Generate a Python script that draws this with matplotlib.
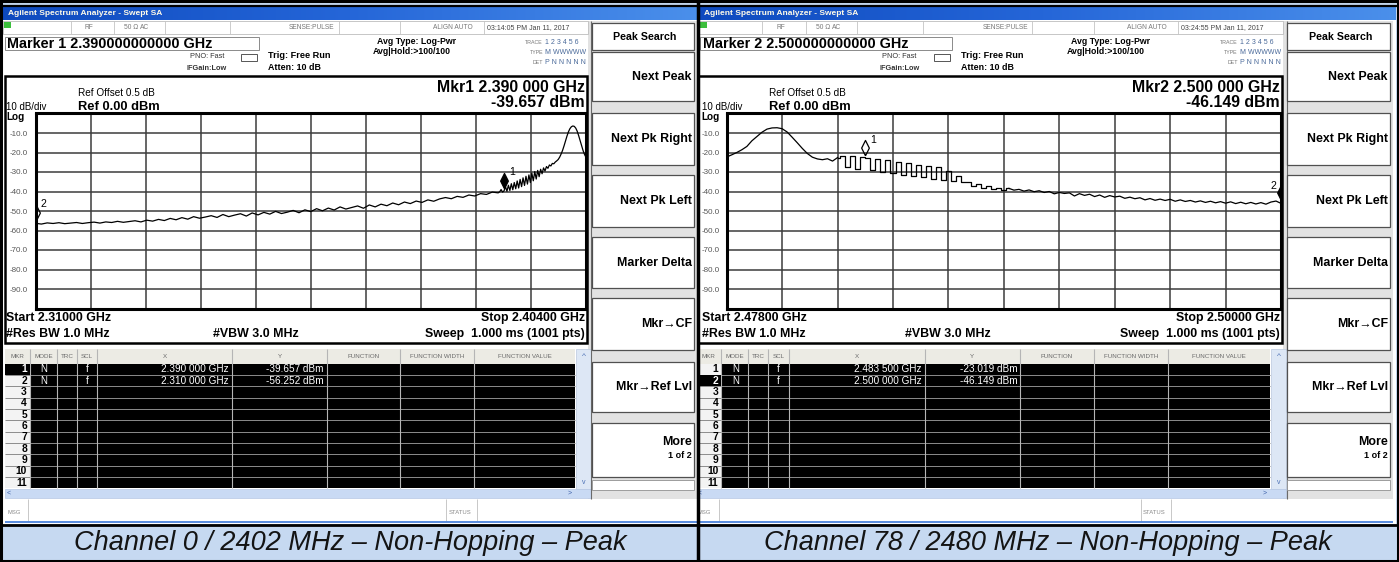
import numpy as np
import matplotlib
matplotlib.use('Agg')
import matplotlib.pyplot as plt
from matplotlib.patches import Rectangle
from matplotlib.colors import LinearSegmentedColormap

plt.rcParams['font.family'] = ['Liberation Sans', 'DejaVu Sans']

# trace levels in dBm
left_body_start, left_body_step = 2310.0, 1.0
left_body_db = [-56.3, -56.7, -56.1, -56.4, -56.0, -56.5, -56.2, -55.9, -56.4, -56.0,
                -55.7, -56.2, -55.6, -55.9, -55.3, -55.8, -55.4, -55.0, -55.6, -54.7,
                -55.2, -54.3, -54.9, -53.8, -54.5, -53.4, -54.2, -52.9, -53.7, -53.1,
                -52.4, -53.3, -51.8, -52.9, -52.1, -51.4, -52.6, -51.0, -52.0, -50.7,
                -51.6, -50.2, -51.3, -50.6, -49.7, -50.9, -49.4, -50.3, -48.8, -49.9,
                -48.5, -49.5, -47.9, -49.0, -48.2, -47.4, -48.6, -46.9, -47.9, -46.5,
                -47.3, -45.9, -46.8, -45.4, -46.2, -44.9, -45.6, -44.3, -45.0, -43.8,
                -43.1, -43.7, -42.5, -43.0, -41.8, -42.3, -41.1, -41.5, -40.3, -40.7]
left_peak_start, left_peak_step = 2389.25, 0.25
left_peak_db = [-40.2, -39.0, -40.3,
                -39.7, -37.5, -39.9, -36.8, -39.5, -36.0, -39.1, -35.4,
                -38.6, -34.6, -38.2, -33.8, -37.5, -33.0, -36.9, -32.2,
                -36.2, -31.5, -35.4, -30.6, -34.5, -29.8, -33.6, -29.2,
                -32.4, -28.6, -30.9, -27.9, -29.5, -27.2, -28.1, -26.4,
                -26.9, -25.6, -25.8, -24.9, -24.3, -23.6, -22.4, -20.8,
                -18.9, -16.6, -14.1, -11.6, -9.4, -7.8, -6.8, -6.4,
                -6.6, -7.5, -9.1, -11.4, -14.0, -16.6, -19.0, -21.0,
                -22.5]

right_start, right_step = 2478.0, 0.2
right_db = [-22.3, -21.2, -20.0, -18.6, -16.9, -14.0, -11.8, -9.6, -8.0, -7.4,
            -7.3, -7.8, -9.5, -12.2, -15.0, -17.9, -20.5, -22.4, -23.3, -23.7,
            -23.2, -24.4, -22.6,
            -21.6, -27.5, -22.0, -28.3, -22.5, -23.0, -29.1, -23.4, -30.0, -24.1,
            -30.6, -25.0, -31.5, -25.6, -32.2, -26.3, -32.8, -26.9, -33.4, -27.6,
            -34.0, -29.5, -34.4, -31.8, -35.2, -35.0, -37.1, -36.2, -38.0, -37.3,
            -38.6, -38.1,
            -39.0, -38.4, -39.3, -38.9, -39.8, -39.2, -40.1, -39.6, -40.5, -40.0,
            -41.2, -40.5, -41.0, -40.7, -42.3, -41.1, -42.0, -41.4, -42.6, -41.8,
            -43.0, -42.1, -42.8, -42.4, -43.5, -42.9, -43.7, -43.2, -44.3, -43.6,
            -44.5, -43.9, -44.6, -44.0, -45.0, -44.3, -45.1, -44.6, -45.4, -44.8,
            -45.6, -45.0, -45.8, -45.2, -46.0, -45.3, -46.2, -45.5, -46.3, -45.6,
            -46.4, -45.7, -46.5, -45.4, -44.9, -46.1]

# marker table values
left_mkr_mhz = [2390.0, 2310.0]
left_mkr_db = [-39.657, -56.252]
right_mkr_mhz = [2483.5, 2500.0]
right_mkr_db = [-23.019, -46.149]

left_caption = 'Channel 0 / 2402 MHz \u2013 Non-Hopping \u2013 Peak'
right_caption = 'Channel 78 / 2480 MHz \u2013 Non-Hopping \u2013 Peak'

softkeys = [('Peak Search', 23, 50), ('Next Peak', 52, 101), ('Next Pk Right', 113, 165),
            ('Next Pk Left', 175, 227), ('Marker Delta', 237, 288), ('Mkr\u2192CF', 298, 350),
            ('Mkr\u2192Ref Lvl', 362, 412), ('More', 423, 477)]

W, H = 1399, 562
left_freq = np.concatenate([left_body_start + left_body_step * np.arange(len(left_body_db)),
                            left_peak_start + left_peak_step * np.arange(len(left_peak_db))])
left_db = left_body_db + left_peak_db
right_freq = right_start + right_step * np.arange(len(right_db))

# comb = index range drawn as stepped (spiky) part of the trace
panels = [
    dict(fig_x=(3, 697), s=1.0, dx=0.0, start=2310.0, stop=2404.0, freq=left_freq, db=left_db,
         mkr_mhz=left_mkr_mhz, mkr_db=left_mkr_db, active=0, text_x=6, comb=None,
         clock='03:14:05 PM Jan 11, 2017', caption=left_caption),
    dict(fig_x=(699, 1396), s=1.007, dx=690.95, start=2478.0, stop=2500.0, freq=right_freq, db=right_db,
         mkr_mhz=right_mkr_mhz, mkr_db=right_mkr_db, active=1, text_x=10.5, comb=(22, 56),
         clock='03:24:55 PM Jan 11, 2017', caption=right_caption),
]

title_cmap = LinearSegmentedColormap.from_list('xp', ['#0c48bd', '#2566d8', '#4d92ec'])
diamond = [(0, 0.35), (0.5, 1.35), (0, 2.35), (-0.5, 1.35), (0, 0.35)]


def box(ax, x0, y0, x1, y1, fc='white', ec='none', lw=0.8, z=1):
    ax.add_patch(Rectangle((x0, y0), x1 - x0, y1 - y0, facecolor=fc, edgecolor=ec,
                           linewidth=lw, zorder=z))


def txt(ax, x, y, s, size, ha='left', color='black', weight='normal', z=6):
    ax.text(x, y, s, fontsize=size, ha=ha, va='center', color=color, fontweight=weight,
            zorder=z, clip_on=True)


def vline(ax, x, y0, y1, color, lw=0.7, z=3):
    ax.plot([x, x], [y0, y1], color=color, lw=lw, zorder=z, solid_capstyle='butt')


def hline(ax, y, x0, x1, color, lw=0.7, z=3):
    ax.plot([x0, x1], [y, y], color=color, lw=lw, zorder=z, solid_capstyle='butt')


def ghz(f):
    s = f'{f / 1000:.6f}'
    return s[:5] + ' ' + s[5:]


def draw_chrome(ax, p):
    a = p['active']
    tx = p['text_x']
    box(ax, -20, 0, 720, 530, fc='white', z=0)
    grad = np.linspace(0, 1, 256).reshape(1, -1)
    ax.imshow(grad, extent=(-20, 720, 20, 7), aspect='auto', cmap=title_cmap, zorder=1)
    txt(ax, tx + 2, 13.5, 'Agilent Spectrum Analyzer - Swept SA', 6, color='#fffbe8', weight='bold')

    # status line
    box(ax, 3, 21, 588, 34, fc='white', ec='#bdbdbd', lw=0.6, z=2)
    for xs in [71, 114, 165, 230, 339, 400, 484]:
        vline(ax, xs, 21, 34, '#c4c4c4', 0.6)
    box(ax, tx - 2, 21.5, tx + 5, 28, fc='#3cbf3c', z=3)
    txt(ax, 89, 27.5, 'RF', 4.8, ha='center', color='#777')
    txt(ax, 124, 27.5, '50 \u03a9', 4.8, color='#777')
    txt(ax, 140, 27.5, 'AC', 4.8, color='#777')
    txt(ax, 312, 27.5, 'SENSE:PULSE', 4.8, ha='center', color='#777')
    txt(ax, 453, 27.5, 'ALIGN AUTO', 4.8, ha='center', color='#777')
    txt(ax, 487, 27.5, p['clock'], 5.0, color='#444')

    # active marker readout
    f, db = p['mkr_mhz'][a], p['mkr_db'][a]
    box(ax, tx - 1.5, 37, 259, 50, fc='white', ec='#8a8a8a', lw=0.7, z=2)
    txt(ax, tx + 1, 43.5, f'Marker {a + 1} {f / 1000:.12f} GHz', 10.4, weight='bold')
    txt(ax, 190, 57, 'PNO: Fast', 5.3, color='#333')
    txt(ax, 187, 68, 'IFGain:Low', 5.3, color='#333', weight='bold')
    box(ax, 241, 54, 257, 61, fc='white', ec='#555', lw=0.7, z=2)
    txt(ax, 268, 55, 'Trig: Free Run', 6.6, weight='bold')
    txt(ax, 268, 67, 'Atten: 10 dB', 6.4, weight='bold')
    txt(ax, 377, 42, 'Avg Type: Log-Pwr', 6.3, weight='bold')
    txt(ax, 373, 52, 'Avg|Hold:>100/100', 6.3, weight='bold')
    for yy, lab, val in [(42, 'TRACE', '1 2 3 4 5 6'), (52, 'TYPE', 'M WWWWW'), (62, 'DET', 'P N N N N N')]:
        txt(ax, 543, yy, lab, 3.8, ha='right', color='#777')
        txt(ax, 545, yy, val, 5.0, color='#4a6a9a')

    # graph frame and annotations
    box(ax, 5, 76, 587, 343, fc='none', ec='black', lw=1.8, z=4)
    txt(ax, 78, 93.5, 'Ref Offset 0.5 dB', 7.2)
    txt(ax, 78, 106.5, 'Ref 0.00 dBm', 9.3, weight='bold')
    txt(ax, tx, 107.5, '10 dB/div', 7.0)
    txt(ax, tx, 117.5, 'Log', 7.2, weight='bold')
    txt(ax, 585, 87.5, f'Mkr{a + 1} {ghz(f)} GHz', 11.4, ha='right', weight='bold')
    txt(ax, 585, 102.5, f'{db:.3f} dBm', 11.4, ha='right', weight='bold')
    txt(ax, tx, 318, f'Start {p["start"] / 1000:.5f} GHz', 8.9, weight='bold')
    txt(ax, tx, 334, '#Res BW 1.0 MHz', 8.9, weight='bold')
    txt(ax, 213, 334, '#VBW 3.0 MHz', 8.9, weight='bold')
    txt(ax, 585, 318, f'Stop {p["stop"] / 1000:.5f} GHz', 8.9, ha='right', weight='bold')
    txt(ax, 585, 334, 'Sweep  1.000 ms (1001 pts)', 8.9, ha='right', weight='bold')

    # marker table
    cols = [5, 30, 57, 77, 97, 232, 327, 400, 474, 575]
    heads = ['MKR', 'MODE', 'TRC', 'SCL', 'X', 'Y', 'FUNCTION', 'FUNCTION WIDTH', 'FUNCTION VALUE']
    box(ax, 5, 349, 575, 363.6, fc='#ecebe4', z=2)
    for i, hd in enumerate(heads):
        txt(ax, (cols[i] + cols[i + 1]) / 2, 356, hd, 4.5, ha='center', color='#6a6a6a')
    row_top, row_h = 363.6, 11.35
    box(ax, 30, row_top, 575, row_top + 11 * row_h, fc='black', z=2)
    box(ax, 5, row_top, 30, row_top + 11 * row_h, fc='#f3f3f3', z=2)
    for k in range(1, 11):
        hline(ax, row_top + k * row_h, 5, 575, '#8c8c8c', 0.7)
    for xc in cols[1:-1]:
        vline(ax, xc, 349, row_top + 11 * row_h, '#b5b5b5', 0.8)
    for r in range(11):
        yc = row_top + (r + 0.5) * row_h
        if r == a:
            box(ax, 5, yc - row_h / 2, 30, yc + row_h / 2, fc='black', z=3)
        txt(ax, 27, yc, str(r + 1), 7.4, ha='right', color='white' if r == a else 'black', weight='bold')
    for r, (mf, md) in enumerate(zip(p['mkr_mhz'], p['mkr_db'])):
        yc = row_top + (r + 0.5) * row_h
        txt(ax, 44, yc, 'N', 7.0, ha='center', color='white')
        txt(ax, 87, yc, 'f', 7.0, ha='center', color='white')
        txt(ax, 229, yc, f'{ghz(mf)} GHz', 7.2, ha='right', color='white')
        txt(ax, 324, yc, f'{md:.3f} dBm', 7.2, ha='right', color='white')

    # scrollbars and message line
    box(ax, 576, 349, 591, 489, fc='#dde7f5', ec='#c3cfe3', lw=0.6, z=2)
    txt(ax, 583.5, 356, '^', 6, ha='center', color='#4a6fb5')
    txt(ax, 583.5, 482, 'v', 5, ha='center', color='#4a6fb5')
    box(ax, 5, 489, 591, 498, fc='#c9daf4', ec='#b7c8e4', lw=0.5, z=2)
    txt(ax, 9, 493.5, '<', 5, ha='center', color='#3b5fa8')
    txt(ax, 570, 493.5, '>', 5, ha='center', color='#3b5fa8')
    box(ax, 5, 499, 697, 521, fc='white', z=2)
    vline(ax, 28, 499, 521, '#c8c8c8')
    vline(ax, 446.5, 499, 521, '#c8c8c8')
    vline(ax, 477, 499, 521, '#c8c8c8')
    txt(ax, 7, 512, 'MSG', 4.2, color='#888')
    txt(ax, 449, 513, 'STATUS', 4.2, color='#888')
    hline(ax, 522, 5, 697, '#3c78d8', 1.2)

    # softkey column
    box(ax, 588, 21, 697, 499, fc='#e2e2e2', z=1)
    vline(ax, 591.5, 21, 499, '#6a6a6a', 0.8, z=2)
    for lab, y0, y1 in softkeys:
        box(ax, 592, y0, 694, y1, fc='white', ec='#505050', lw=0.9, z=2)
        ym = (y0 + y1) / 2
        if lab == 'Peak Search':
            txt(ax, 645, ym, lab, 7.7, ha='center', weight='bold')
        elif lab == 'More':
            txt(ax, 692, 442, lab, 8.9, ha='right', weight='bold')
            txt(ax, 692, 455, '1 of 2', 6.5, ha='right', weight='bold')
        else:
            txt(ax, 692, ym, lab, 8.9, ha='right', weight='bold')
    box(ax, 592, 480, 694, 490, fc='white', ec='#909090', lw=0.6, z=2)


def draw_trace(p):
    x0, x1 = p['s'] * 35.5 + p['dx'], p['s'] * 586 + p['dx']
    sax = fig.add_axes([x0 / W, 1 - 308.5 / H, (x1 - x0) / W, 195 / H])
    sax.set_facecolor('white')
    sax.set_xlim(p['start'], p['stop'])
    sax.set_ylim(-100, 0)
    sax.set_xticks(np.linspace(p['start'], p['stop'], 11))
    yt = np.arange(-100, 1, 10)
    sax.set_yticks(yt, labels=['' if v in (0, -100) else f'{v:.1f}' for v in yt])
    sax.tick_params(length=0, pad=5.3, labelsize=5.8, labelcolor='#555', labelbottom=False)
    sax.grid(True, color='#3c3c3c', lw=1.1)
    for sp in sax.spines.values():
        sp.set_linewidth(2.2)
    fq, lv = np.asarray(p['freq']), np.asarray(p['db'])
    if p['comb'] is None:
        sax.plot(fq, lv, color='black', lw=0.9, zorder=3)
    else:
        i0, i1 = p['comb']
        sax.plot(fq[:i0 + 1], lv[:i0 + 1], color='black', lw=0.9, zorder=3)
        sax.plot(fq[i0:i1 + 1], lv[i0:i1 + 1], color='black', lw=0.9, zorder=3, drawstyle='steps-mid')
        sax.plot(fq[i1:], lv[i1:], color='black', lw=0.9, zorder=3)
    for i, (mf, md) in enumerate(zip(p['mkr_mhz'], p['mkr_db'])):
        sax.plot([mf], [md], marker=diamond, ms=26, linestyle='none', mec='black', mew=0.9,
                 mfc='black' if i == p['active'] else 'none', zorder=4)
        off = (-5.8, 12.5) if mf >= p['stop'] else (5.6, 13.5)
        sax.annotate(str(i + 1), (mf, md), xytext=off, textcoords='offset points',
                     fontsize=7.6, ha='center', va='center', zorder=5)


fig = plt.figure(figsize=(W / 100, H / 100), dpi=100)
fig.patch.set_facecolor('#c6d9f1')
bg = fig.add_axes([0, 0, 1, 1])
bg.set_xlim(0, W)
bg.set_ylim(H, 0)
bg.axis('off')

for p in panels:
    fx0, fx1 = p['fig_x']
    ax = fig.add_axes([fx0 / W, 1 - 524 / H, (fx1 - fx0) / W, (524 - 6) / H])
    ax.set_xlim((fx0 - p['dx']) / p['s'], (fx1 - p['dx']) / p['s'])
    ax.set_ylim(524, 6)
    ax.set_autoscale_on(False)
    ax.set_xticks([])
    ax.set_yticks([])
    for sp in ax.spines.values():
        sp.set_visible(False)
    draw_chrome(ax, p)
    draw_trace(p)
    cx = (fx0 + fx1) / 2
    bg.text(cx, 543.5, p['caption'], fontsize=19.5, fontstyle='italic', ha='center', va='center',
            color='#141414')

# outer borders on top of everything
top = fig.add_axes([0, 0, 1, 1])
top.set_xlim(0, W)
top.set_ylim(H, 0)
top.axis('off')
top.add_patch(Rectangle((1, 1), W - 2.5, H - 2.5, fill=False, edgecolor='black', lw=2.2))
top.plot([0, W], [5.5, 5.5], color='black', lw=1.6)
top.plot([0, W], [524.8, 524.8], color='black', lw=2.0)
top.plot([698, 698], [0, H], color='black', lw=2.5)

fig.savefig('out.png', dpi=100, facecolor=fig.get_facecolor())
